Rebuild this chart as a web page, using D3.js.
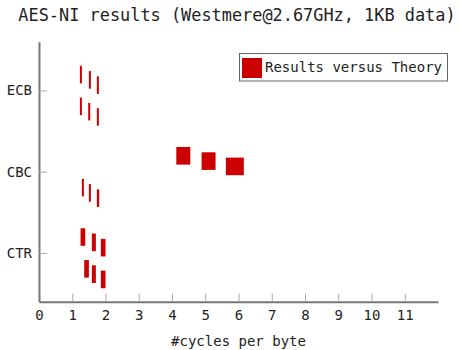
<!DOCTYPE html>
<html>
<head>
<meta charset="utf-8">
<script src="https://cdn.jsdelivr.net/npm/d3@7"></script>
<style>
    body { margin: 0; background: #fff; }
    text { font-family: "DejaVu Sans Mono", monospace; fill: #222; }
</style>
</head>
<body>
<svg id="chart"></svg>
<script>
// AES-NI timings: each mark spans from the theoretical cost to the measured one.

var modes = ["ECB", "CBC", "CTR"];
var passes = ["encrypt", "decrypt"];
var keyBits = [128, 192, 256];
var xTicks = [0, 1, 2, 3, 4, 5, 6, 7, 8, 9, 10, 11];

// [mode][pass][key size], cycles per byte
var theoryValues = [
    [[1.23, 1.50, 1.74], [1.23, 1.48, 1.74]],
    [[4.13, 4.89, 5.62], [1.29, 1.50, 1.74]],
    [[1.25, 1.59, 1.86], [1.36, 1.59, 1.86]]
];
var resultValues = [
    [[1.29, 1.56, 1.80], [1.29, 1.54, 1.80]],
    [[4.55, 5.31, 6.16], [1.35, 1.56, 1.81]],
    [[1.39, 1.71, 2.00], [1.50, 1.71, 2.00]]
];

var width = 459;
var height = 350;
var plotLeft = 39, plotRight = 438, plotTop = 41.7, plotBottom = 301.7;

var svg = d3.select("#chart")
    .attr("width", width)
    .attr("height", height);

var x = d3.scaleLinear().domain([0, 12]).range([plotLeft, plotRight]);
var y = d3.scalePoint().domain(modes).range([plotTop, plotBottom]).padding(0.6);
var passOffset = d3.scalePoint().domain(passes).range([-10.6, 21.2]);
var keyOffset = d3.scalePoint().domain(keyBits).range([-5.3, 5.3]);
var barHeight = 17.6;

var marks = [];
modes.forEach(function(m, i) {
    passes.forEach(function(p, j) {
        keyBits.forEach(function(k, n) {
            marks.push({mode: m, pass: p, bits: k,
                theory: theoryValues[i][j][n], result: resultValues[i][j][n]});
        });
    });
});

svg.append("text")
    .attr("x", 237)
    .attr("y", 21)
    .attr("text-anchor", "middle")
    .attr("font-size", "16.9px")
    .text("AES-NI results (Westmere@2.67GHz, 1KB data)");

var xAxis = svg.append("g")
    .attr("transform", "translate(0," + plotBottom + ")")
    .call(d3.axisBottom(x).tickValues(xTicks).tickFormat(d3.format("d"))
        .tickSizeInner(-8).tickSizeOuter(0).tickPadding(8));

var yAxis = svg.append("g")
    .attr("transform", "translate(" + plotLeft + ",0)")
    .call(d3.axisLeft(y).tickSizeInner(-8).tickSizeOuter(0).tickPadding(7));

[xAxis, yAxis].forEach(function(g) {
    g.select(".domain").attr("stroke", "#777").attr("stroke-width", 2);
    g.selectAll(".tick line").attr("stroke", "#aaa");
    g.selectAll(".tick text")
        .attr("font-family", "DejaVu Sans Mono, monospace")
        .attr("font-size", "14px")
        .attr("fill", "#222");
});

svg.append("text")
    .attr("x", (plotLeft + plotRight) / 2)
    .attr("y", 346)
    .attr("text-anchor", "middle")
    .attr("font-size", "14px")
    .text("#cycles per byte");

svg.selectAll("rect.mark").data(marks)
    .enter().append("rect")
    .attr("class", "mark")
    .attr("x", function(d) { return x(d.theory); })
    .attr("width", function(d) { return x(d.result) - x(d.theory); })
    .attr("y", function(d) { return y(d.mode) + passOffset(d.pass) + keyOffset(d.bits) - barHeight / 2; })
    .attr("height", barHeight)
    .attr("fill", "#cc0000");

// legend
var legend = svg.append("g");
legend.append("rect")
    .attr("x", 239.5).attr("y", 53.5)
    .attr("width", 208).attr("height", 27.5)
    .attr("fill", "#fff")
    .attr("stroke", "#666");
legend.append("rect")
    .attr("x", 242).attr("y", 58)
    .attr("width", 20).attr("height", 20)
    .attr("fill", "#cc0000");
legend.append("text")
    .attr("x", 265).attr("y", 72)
    .attr("font-size", "14px")
    .text("Results versus Theory");
</script>
</body>
</html>
